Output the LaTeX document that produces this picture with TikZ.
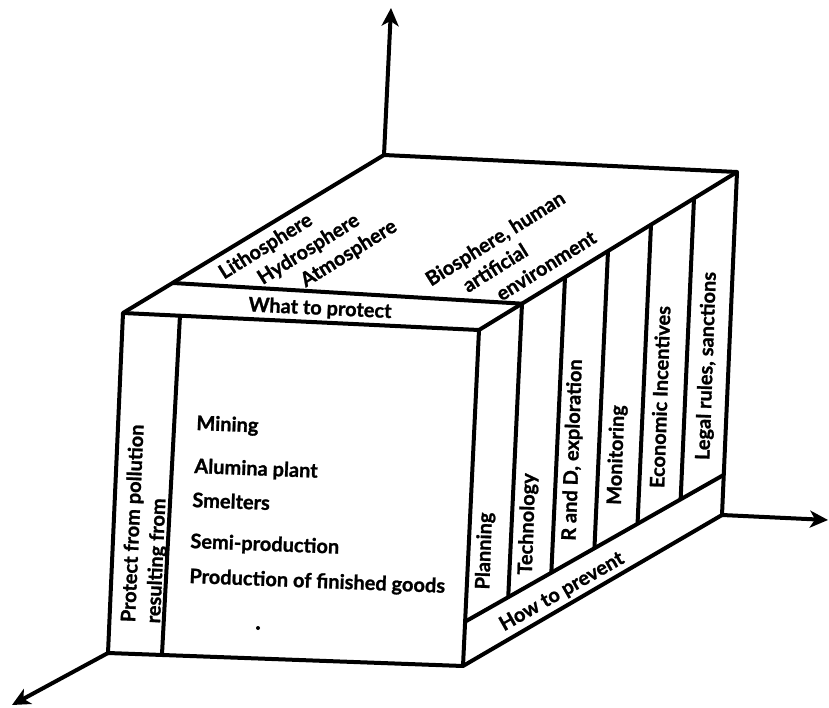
\documentclass[tikz,border=0pt]{standalone}
\usepackage{fontspec}
\setmainfont{Lato}[BoldFeatures={FakeBold=1.2}]
\usetikzlibrary{arrows.meta,calc}
\begin{document}
\begin{tikzpicture}[x=1pt,y=-1pt,
  edge/.style={line width=4pt,line join=round},
  axis/.style={line width=4pt,-{Stealth[length=18pt,width=17pt,inset=5pt]}},
  lbl/.style={font=\fontsize{20}{25}\selectfont\bfseries,inner sep=0pt},
  toplbl/.style={lbl,rotate=32,align=left,anchor=north west},
  frontlbl/.style={lbl,anchor=base west,rotate=-2.2},
  collbl/.style={lbl,rotate=88},
]
\useasboundingbox (0,0) rectangle (829,708);
% corners of the block
\coordinate (O)  at (384,155);
\coordinate (BR) at (737,172);
\coordinate (FL) at (123,313);
\coordinate (FR) at (479,330);
\coordinate (BL) at (108,653);
\coordinate (BF) at (463,666);
\coordinate (RB) at (722,515);
% axis tips
\coordinate (Up) at (391,8);
\coordinate (Rt) at (828,520);
\coordinate (Dn) at (12,705);
% strip points
\coordinate (T1) at ($(O)!0.81!(FL)$);
\coordinate (T2) at ($(FR)!1/6!(BR)$);
\coordinate (F1) at ($(FL)!0.16!(FR)$);
\coordinate (F2) at ($(BL)!0.152!(BF)$);
\coordinate (H1) at ($(FR)!0.868!(BF)$);
\coordinate (H2) at ($(BR)!0.883!(RB)$);
% axes
\draw[axis] (O) -- (Up);
\draw[axis] (RB) -- (Rt);
\draw[axis] (BL) -- (Dn);
% block
\draw[edge] (FL) -- (O) -- (BR) -- (RB) -- (BF) -- (BL) -- cycle;
\draw[edge] (FL) -- (FR) -- (BR);
\draw[edge] (FR) -- (BF);
\draw[edge] (T1) -- (T2);
\draw[edge] (F1) -- (F2);
\draw[edge] (H1) -- (H2);
\foreach \k in {1,...,5}{
  \draw[edge] ($(FR)!\k/6!(BR)$) -- ($(H1)!\k/6!(H2)$);
}
% top face
\node[toplbl] (spheres) at (216,267)
  {Lithosphere\\\hspace*{30pt}Hydrosphere\\\hspace*{65pt}Atmosphere};
\node[toplbl] (bio) at (423,274)
  {Biosphere, human\\\hspace*{28pt}artificial\\\hspace*{52pt}environment};
\node[lbl,rotate=-2.7] (what) at (320,309) {What to protect};
% front face
\node[frontlbl] (mining) at (196,430) {Mining};
\node[frontlbl] (alum)   at (194,473) {Alumina plant};
\node[frontlbl] (smelt)  at (192,507) {Smelters};
\node[frontlbl] (semi)   at (190,548) {Semi-production};
\node[frontlbl] (prod)   at (189,583) {Production of finished goods};
\fill (258,628) circle (2pt);
\node[lbl,rotate=87.5,align=left,anchor=north west] (protect) at (120,622)
  {Protect from pollution\\resulting from};
% right face
\node[collbl] (plan)  at (485,551) {Planning};
\node[collbl] (tech)  at (528,524) {Technology};
\node[collbl] (rnd)   at (573,450) {R and D, exploration};
\node[collbl] (mon)   at (617,455) {Monitoring};
\node[collbl] (econ)  at (660,397) {Economic Incentives};
\node[collbl] (legal) at (707,366) {Legal rules, sanctions};
\node[lbl,rotate=29.7] (how) at (562,592) {How to prevent};
\end{tikzpicture}
\end{document}
